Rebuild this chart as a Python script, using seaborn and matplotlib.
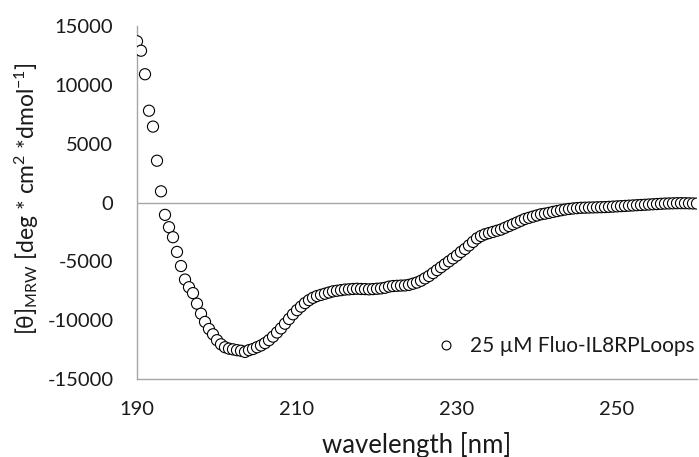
import matplotlib
matplotlib.use("Agg")
import matplotlib.pyplot as plt
import seaborn as sns
import numpy as np
import pandas as pd

wavelength = [190.0 + 0.5 * i for i in range(141)]
theta = [
    13700, 12900, 10900, 7800, 6450, 3550, 950, -1050, -2100, -2950,
    -4200, -5400, -6550, -7200, -7700, -8600, -9450, -10150, -10750, -11200,
    -11700, -12050, -12300, -12420, -12480, -12550, -12600, -12700, -12550, -12450,
    -12300, -12150, -11950, -11700, -11400, -11050, -10700, -10300, -9900, -9500,
    -9150, -8850, -8550, -8300, -8100, -7950, -7850, -7750, -7650, -7550,
    -7500, -7450, -7400, -7380, -7350, -7330, -7350, -7360, -7380, -7360,
    -7330, -7300, -7250, -7150, -7100, -7080, -7060, -7050, -7000, -6900,
    -6800, -6650, -6450, -6250, -6000, -5750, -5500, -5250, -5000, -4750,
    -4500, -4200, -3950, -3650, -3350, -3050, -2850, -2700, -2600, -2500,
    -2400, -2300, -2150, -2000, -1850, -1700, -1550, -1400, -1300, -1200,
    -1100, -1000, -950, -880, -800, -730, -660, -600, -550, -510,
    -480, -450, -440, -430, -420, -410, -400, -390, -370, -350,
    -330, -310, -290, -270, -250, -230, -210, -190, -170, -150,
    -130, -110, -90, -80, -70, -60, -60, -60, -70, -80,
    -90,
]
series_label = "25 µM Fluo-IL8RPLoops"
x_ticks = [190, 210, 230, 250]
y_ticks = [-15000, -10000, -5000, 0, 5000, 10000, 15000]

df = pd.DataFrame({"wavelength": wavelength, "theta": theta, "series": series_label})

sns.set_theme(style="white")
plt.rcParams["font.family"] = ["Lato", "DejaVu Sans"]
plt.rcParams["mathtext.fontset"] = "custom"
plt.rcParams["mathtext.rm"] = "Lato"
plt.rcParams["mathtext.it"] = "Lato:italic"
plt.rcParams["axes.unicode_minus"] = False

fig = plt.figure(figsize=(6.99, 4.57), dpi=100)
ax = fig.add_axes([137 / 699, 1 - 379 / 457, 560 / 699, (379 - 26) / 457])

sns.scatterplot(data=df, x="wavelength", y="theta", hue="series",
                palette=["white"], edgecolor="black", linewidth=0.8,
                s=64, marker="o", ax=ax, zorder=3)

axis_gray = "#a6a6a6"
text_col = "#1a1a1a"
ax.axhline(0, color=axis_gray, lw=1.0, zorder=1)
ax.set_xlim(190, 260)
ax.set_ylim(-15000, 15000)
ax.set_xticks(x_ticks)
ax.set_yticks(y_ticks)
ax.tick_params(axis="both", direction="out", length=6, width=1.0,
               color=axis_gray, labelsize=14.5, labelcolor=text_col)
ax.tick_params(axis="x", pad=10)
ax.tick_params(axis="y", pad=11)
for side in ["top", "right"]:
    ax.spines[side].set_visible(False)
for side in ["left", "bottom"]:
    ax.spines[side].set_color(axis_gray)
    ax.spines[side].set_linewidth(1.0)

ax.set_xlabel("wavelength [nm]", fontsize=18.5, color=text_col)
ax.xaxis.set_label_coords(0.5, -0.15)
ax.set_ylabel(r"[θ]$_{\mathrm{MRW}}$ [deg * cm$^{2}$ *dmol$^{-1}$]",
              fontsize=16.5, color=text_col)
ax.yaxis.set_label_coords(-0.172, 0.51)

leg = ax.legend(loc="center right", bbox_to_anchor=(1.0, 0.093), frameon=False,
                fontsize=15, handletextpad=0.15, borderaxespad=0, borderpad=0.1,
                markerscale=0.8)
for t in leg.get_texts():
    t.set_color(text_col)

fig.savefig("out.png", dpi=100)
